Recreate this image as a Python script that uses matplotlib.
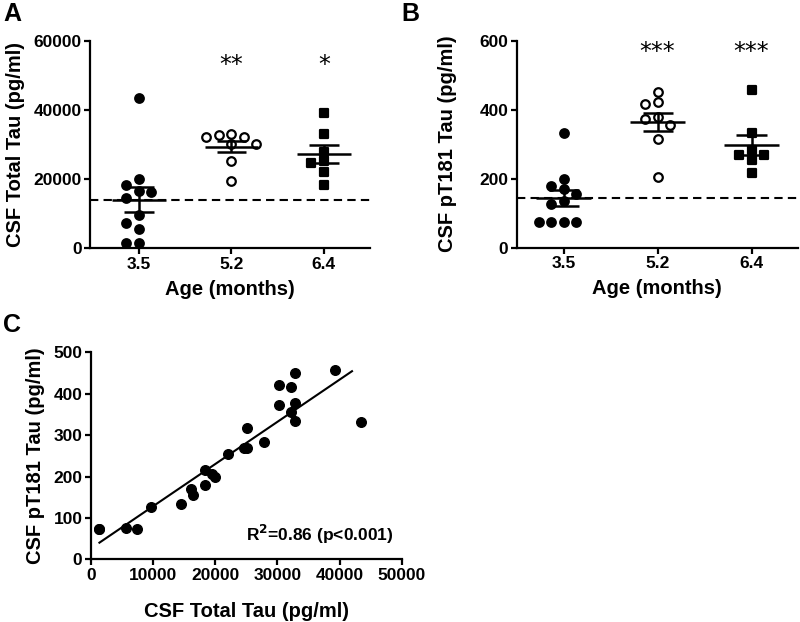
import numpy as np
import matplotlib
matplotlib.use("Agg")
import matplotlib.pyplot as plt

plt.rcParams['font.family'] = ['Liberation Sans', 'DejaVu Sans']
plt.rcParams['font.weight'] = 'bold'
plt.rcParams['axes.labelweight'] = 'bold'

# data (one entry per animal, same order in both measures)
ages = ["3.5", "5.2", "6.4"]
total_tau_35 = [43500, 1400, 1400, 5600, 7400, 9700, 14500, 16200, 16500, 18300, 19900]
pt181_35 = [332, 73, 73, 75, 73, 127, 134, 171, 155, 179, 200]
total_tau_52 = [19500, 25100, 30200, 30200, 32200, 32200, 32900, 32800]
pt181_52 = [205, 316, 372, 422, 416, 355, 450, 378]
total_tau_64 = [39200, 32900, 27900, 24700, 25100, 22100, 18400]
pt181_64 = [457, 333, 284, 269, 269, 254, 216]
stars_total = ["", "**", "*"]
stars_pt181 = ["", "***", "***"]
r2_text = "R$^2$=0.86 (p<0.001)"

markers = ['o', 'o', 's']
faces = ['black', 'white', 'black']

fig = plt.figure(figsize=(8, 6.22), dpi=100)


def style(ax):
    for s in ['top', 'right']:
        ax.spines[s].set_visible(False)
    for s in ['left', 'bottom']:
        ax.spines[s].set_linewidth(1.6)
    ax.tick_params(width=1.6, length=4, labelsize=12.5, pad=2)
    for lab in ax.get_xticklabels() + ax.get_yticklabels():
        lab.set_fontweight('bold')


def swarm_offsets(ax, vals, step_px=12.5, min_px=9.0):
    # spread points sideways where they would overlap, like a dot plot
    bbox = ax.get_window_extent()
    y0, y1 = ax.get_ylim()
    x0, x1 = ax.get_xlim()
    py = bbox.height / (y1 - y0)
    dx = step_px * (x1 - x0) / bbox.width
    order = np.argsort(vals)[::-1]
    cols = {}
    offs = np.zeros(len(vals))
    for i in order:
        for k in [0, -1, 1, -2, 2, -3, 3]:
            ok = all(abs(vals[i] - v) * py >= min_px for v in cols.get(k, []))
            if ok:
                cols.setdefault(k, []).append(vals[i])
                offs[i] = k * dx
                break
    return offs


def dot_panel(rect, groups, ylim, yticks, ylabel, stars, star_y, xlim, ypad):
    ax = fig.add_axes(rect)
    ax.set_xlim(*xlim)
    ax.set_ylim(*ylim)
    ax.set_yticks(yticks)
    ax.set_xticks([1, 2, 3])
    ax.set_xticklabels(ages)
    base = np.mean(groups[0])
    ax.axhline(base, color='black', lw=1.5, ls=(0, (4, 2.5)), zorder=1)
    for i, vals in enumerate(groups):
        vals = np.array(vals, dtype=float)
        x = i + 1
        offs = swarm_offsets(ax, vals)
        ax.scatter(x + offs, vals, s=38, marker=markers[i], facecolor=faces[i],
                   edgecolor='black', linewidth=1.6, zorder=3, clip_on=False)
        m = vals.mean()
        sem = vals.std(ddof=1) / np.sqrt(len(vals))
        ax.hlines(m, x - 0.29, x + 0.29, color='black', lw=1.8, zorder=4)
        ax.hlines([m - sem, m + sem], x - 0.16, x + 0.16, color='black', lw=1.8, zorder=4)
        ax.vlines(x, m - sem, m + sem, color='black', lw=1.8, zorder=4)
        if stars[i]:
            ax.text(x, star_y, stars[i], ha='center', va='center', fontsize=17,
                    fontweight='normal', family='DejaVu Sans')
    ax.set_ylabel(ylabel, fontsize=14.5, labelpad=ypad)
    ax.set_xlabel("Age (months)", fontsize=14.5, labelpad=6)
    style(ax)
    return ax


ax_a = dot_panel([0.1125, 0.6008, 0.35, 0.3338],
                 [total_tau_35, total_tau_52, total_tau_64],
                 (0, 60000), [0, 20000, 40000, 60000], "CSF Total Tau (pg/ml)",
                 stars_total, 53000, (0.47, 3.5), 6)
ax_b = dot_panel([0.6459, 0.6018, 0.351, 0.3328],
                 [pt181_35, pt181_52, pt181_64],
                 (0, 600), [0, 200, 400, 600], "CSF pT181 Tau (pg/ml)",
                 stars_pt181, 568, (0.5, 3.49), 16)

# panel C: correlation of the two measures
x_all = np.array(total_tau_35 + total_tau_52 + total_tau_64, dtype=float)
y_all = np.array(pt181_35 + pt181_52 + pt181_64, dtype=float)
ax_c = fig.add_axes([0.1134, 0.1008, 0.3888, 0.3328])
ax_c.scatter(x_all, y_all, s=48, color='black', zorder=3, clip_on=False)
a, b = np.polyfit(x_all, y_all, 1)
xs = np.array([x_all.min(), x_all.max() - 1500])
ax_c.plot(xs, a * xs + b, color='black', lw=1.5)
ax_c.set_xlim(0, 50000)
ax_c.set_ylim(0, 500)
ax_c.set_xticks(range(0, 50001, 10000))
ax_c.set_yticks(range(0, 501, 100))
ax_c.text(48700, 61, r2_text, ha='right', va='center', fontsize=12.5, fontweight='bold')
ax_c.set_xlabel("CSF Total Tau (pg/ml)", fontsize=14.5, labelpad=14)
ax_c.set_ylabel("CSF pT181 Tau (pg/ml)", fontsize=14.5, labelpad=6)
style(ax_c)

fig.text(0.004, 0.978, "A", fontsize=18, fontweight='bold', va='center')
fig.text(0.502, 0.978, "B", fontsize=18, fontweight='bold', va='center')
fig.text(0.004, 0.477, "C", fontsize=18, fontweight='bold', va='center')

fig.savefig("out.png", dpi=100)
